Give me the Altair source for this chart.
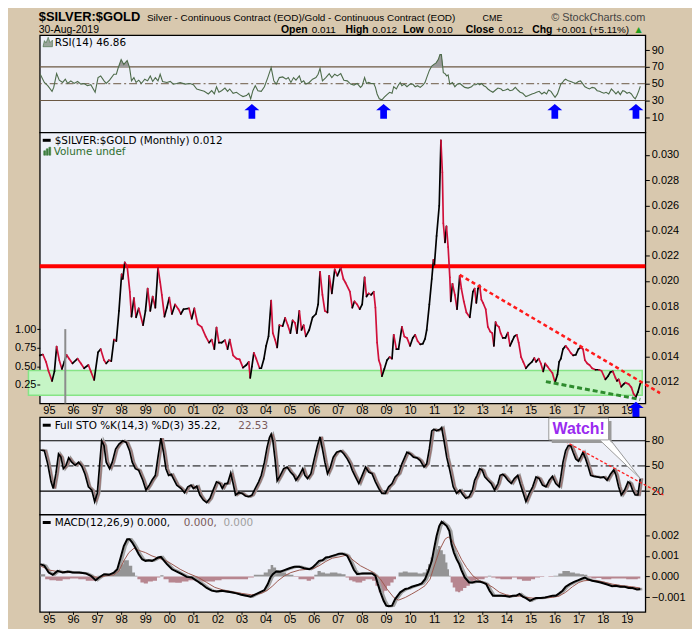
import altair as alt
import pandas as pd
import numpy as np

# ------------------------------------------------------------------ data
price_years = [1994.60, 1994.73, 1994.86, 1994.96, 1995.11, 1995.21, 1995.30, 1995.41, 1995.52, 1995.62,
               1995.71, 1995.82, 1995.96, 1996.17, 1996.31, 1996.44, 1996.62, 1996.72, 1996.86, 1997.02,
               1997.13, 1997.27, 1997.36, 1997.47, 1997.57, 1997.68, 1997.78, 1997.89, 1998.00, 1998.05,
               1998.13, 1998.23, 1998.34, 1998.41, 1998.51, 1998.60, 1998.71, 1998.89, 1998.99, 1999.08,
               1999.19, 1999.29, 1999.40, 1999.51, 1999.60, 1999.67, 1999.78, 1999.88, 1999.98, 2000.09,
               2000.22, 2000.36, 2000.46, 2000.57, 2000.80, 2000.91, 2001.02, 2001.16, 2001.32, 2001.49,
               2001.63, 2001.74, 2001.85, 2001.94, 2002.04, 2002.15, 2002.29, 2002.40, 2002.49, 2002.63,
               2002.77, 2002.90, 2003.04, 2003.18, 2003.28, 2003.34, 2003.41, 2003.49, 2003.59, 2003.73,
               2003.80, 2003.91, 2004.00, 2004.10, 2004.21, 2004.28, 2004.37, 2004.46, 2004.55, 2004.69,
               2004.79, 2004.90, 2005.01, 2005.10, 2005.20, 2005.28, 2005.38, 2005.47, 2005.56, 2005.65,
               2005.79, 2005.93, 2006.07, 2006.16, 2006.24, 2006.34, 2006.44, 2006.55, 2006.62, 2006.73,
               2006.85, 2006.96, 2007.10, 2007.21, 2007.30, 2007.48, 2007.58, 2007.67, 2007.78, 2007.89,
               2007.99, 2008.09, 2008.17, 2008.26, 2008.36, 2008.47, 2008.54, 2008.61, 2008.68, 2008.75,
               2008.81, 2008.91, 2009.02, 2009.13, 2009.23, 2009.30, 2009.41, 2009.50, 2009.64, 2009.74,
               2009.85, 2009.98, 2010.09, 2010.19, 2010.29, 2010.40, 2010.51, 2010.60, 2010.67, 2010.78,
               2010.88, 2010.95, 2010.99, 2011.08, 2011.19, 2011.26, 2011.32, 2011.36, 2011.43, 2011.49,
               2011.56, 2011.63, 2011.67, 2011.74, 2011.84, 2011.93, 2012.04, 2012.11, 2012.21, 2012.32,
               2012.46, 2012.59, 2012.66, 2012.73, 2012.80, 2012.87, 2012.94, 2013.01, 2013.12, 2013.21,
               2013.31, 2013.39, 2013.46, 2013.53, 2013.58, 2013.67, 2013.74, 2013.83, 2013.94, 2014.04,
               2014.13, 2014.22, 2014.31, 2014.41, 2014.49, 2014.59, 2014.68, 2014.79, 2014.90, 2015.04,
               2015.14, 2015.21, 2015.32, 2015.41, 2015.51, 2015.59, 2015.69, 2015.78, 2015.89, 2016.00,
               2016.10, 2016.17, 2016.24, 2016.33, 2016.44, 2016.55, 2016.65, 2016.75, 2016.86, 2016.97,
               2017.06, 2017.16, 2017.24, 2017.34, 2017.43, 2017.54, 2017.68, 2017.82, 2017.93, 2018.09,
               2018.20, 2018.30, 2018.40, 2018.51, 2018.57, 2018.64, 2018.75, 2018.85, 2018.92, 2019.06,
               2019.17, 2019.26, 2019.36, 2019.44, 2019.54]
price_values = [0.01408, 0.01415, 0.01357, 0.01286, 0.01205, 0.01281, 0.01478, 0.01370, 0.01301, 0.01357,
                0.01413, 0.01382, 0.01344, 0.01382, 0.01344, 0.01306, 0.01332, 0.01281, 0.01213, 0.01433,
                0.01458, 0.01370, 0.01344, 0.01370, 0.01362, 0.01534, 0.01522, 0.01762, 0.02053, 0.02015,
                0.02147, 0.02116, 0.01914, 0.01716, 0.01863, 0.01711, 0.01782, 0.01648, 0.01762, 0.01939,
                0.01762, 0.01876, 0.01787, 0.02104, 0.01990, 0.01889, 0.01716, 0.01787, 0.01868, 0.01737,
                0.01813, 0.01775, 0.01737, 0.01775, 0.01782, 0.01699, 0.01782, 0.01656, 0.01635, 0.01559,
                0.01509, 0.01534, 0.01458, 0.01630, 0.01509, 0.01509, 0.01529, 0.01458, 0.01534, 0.01408,
                0.01382, 0.01377, 0.01311, 0.01332, 0.01357, 0.01230, 0.01319, 0.01428, 0.01382, 0.01306,
                0.01306, 0.01382, 0.01484, 0.01559, 0.01843, 0.01585, 0.01534, 0.01471, 0.01648, 0.01641,
                0.01706, 0.01648, 0.01585, 0.01686, 0.01666, 0.01585, 0.01762, 0.01610, 0.01648, 0.01559,
                0.01610, 0.01711, 0.01737, 0.01813, 0.02071, 0.01889, 0.01762, 0.01749, 0.02041, 0.01901,
                0.02091, 0.02041, 0.02104, 0.02015, 0.01985, 0.01914, 0.01787, 0.01838, 0.01813, 0.01775,
                0.01813, 0.02028, 0.01876, 0.01901, 0.01889, 0.01914, 0.01787, 0.01509, 0.01370, 0.01332,
                0.01243, 0.01301, 0.01370, 0.01395, 0.01382, 0.01572, 0.01458, 0.01458, 0.01635, 0.01559,
                0.01547, 0.01484, 0.01547, 0.01572, 0.01522, 0.01496, 0.01501, 0.01539, 0.01610, 0.01813,
                0.02015, 0.02167, 0.02129, 0.02357, 0.02597, 0.03116, 0.02863, 0.02458, 0.02306, 0.02433,
                0.02268, 0.02028, 0.01838, 0.01977, 0.01889, 0.01775, 0.02041, 0.01939, 0.01838, 0.01749,
                0.01711, 0.01914, 0.01939, 0.01825, 0.01939, 0.01965, 0.01851, 0.01825, 0.01775, 0.01635,
                0.01597, 0.01585, 0.01484, 0.01673, 0.01648, 0.01635, 0.01585, 0.01547, 0.01547, 0.01590,
                0.01484, 0.01522, 0.01559, 0.01572, 0.01509, 0.01395, 0.01357, 0.01306, 0.01332, 0.01357,
                0.01387, 0.01357, 0.01382, 0.01344, 0.01281, 0.01344, 0.01319, 0.01294, 0.01268, 0.01192,
                0.01256, 0.01357, 0.01382, 0.01458, 0.01484, 0.01458, 0.01428, 0.01408, 0.01413, 0.01458,
                0.01471, 0.01458, 0.01370, 0.01344, 0.01332, 0.01306, 0.01294, 0.01294, 0.01286, 0.01218,
                0.01243, 0.01276, 0.01281, 0.01230, 0.01205, 0.01218, 0.01159, 0.01180, 0.01192, 0.01180,
                0.01154, 0.01104, 0.01078, 0.01116, 0.01185]

rsi_years = [1994.62, 1994.79, 1994.93, 1995.11, 1995.18, 1995.30, 1995.41, 1995.55, 1995.66, 1995.76,
             1995.89, 1996.03, 1996.17, 1996.31, 1996.44, 1996.58, 1996.72, 1996.90, 1997.02, 1997.13,
             1997.27, 1997.36, 1997.50, 1997.68, 1997.78, 1997.86, 1997.98, 1998.09, 1998.23, 1998.33,
             1998.41, 1998.51, 1998.60, 1998.71, 1998.82, 1998.96, 1999.08, 1999.19, 1999.29, 1999.40,
             1999.51, 1999.60, 1999.70, 1999.88, 2000.02, 2000.15, 2000.29, 2000.43, 2000.64, 2000.84,
             2000.98, 2001.12, 2001.25, 2001.43, 2001.60, 2001.74, 2001.85, 2001.94, 2002.04, 2002.15,
             2002.29, 2002.40, 2002.49, 2002.63, 2002.77, 2002.90, 2003.04, 2003.18, 2003.28, 2003.36,
             2003.45, 2003.55, 2003.66, 2003.80, 2003.93, 2004.07, 2004.21, 2004.32, 2004.42, 2004.55,
             2004.69, 2004.83, 2004.92, 2005.03, 2005.14, 2005.24, 2005.38, 2005.47, 2005.56, 2005.65,
             2005.79, 2005.93, 2006.07, 2006.16, 2006.24, 2006.34, 2006.48, 2006.62, 2006.73, 2006.85,
             2006.96, 2007.10, 2007.23, 2007.37, 2007.51, 2007.65, 2007.78, 2007.92, 2007.99, 2008.09,
             2008.17, 2008.26, 2008.36, 2008.47, 2008.54, 2008.61, 2008.70, 2008.81, 2008.91, 2009.02,
             2009.13, 2009.23, 2009.30, 2009.41, 2009.50, 2009.57, 2009.64, 2009.74, 2009.85, 2009.98,
             2010.09, 2010.19, 2010.29, 2010.40, 2010.51, 2010.60, 2010.67, 2010.78, 2010.88, 2010.97,
             2011.06, 2011.15, 2011.22, 2011.28, 2011.36, 2011.43, 2011.50, 2011.56, 2011.63, 2011.74,
             2011.84, 2011.94, 2012.05, 2012.16, 2012.25, 2012.39, 2012.53, 2012.62, 2012.71, 2012.80,
             2012.87, 2012.94, 2013.04, 2013.12, 2013.21, 2013.31, 2013.42, 2013.53, 2013.63, 2013.76,
             2013.83, 2013.94, 2014.04, 2014.13, 2014.24, 2014.35, 2014.45, 2014.55, 2014.66, 2014.79,
             2014.90, 2015.04, 2015.14, 2015.23, 2015.34, 2015.45, 2015.55, 2015.65, 2015.73, 2015.83,
             2015.92, 2016.00, 2016.10, 2016.17, 2016.24, 2016.31, 2016.38, 2016.44, 2016.55, 2016.65,
             2016.75, 2016.86, 2016.97, 2017.06, 2017.16, 2017.24, 2017.34, 2017.43, 2017.54, 2017.65,
             2017.75, 2017.85, 2017.93, 2018.03, 2018.12, 2018.23, 2018.34, 2018.44, 2018.53, 2018.62,
             2018.71, 2018.81, 2018.89, 2018.99, 2019.08, 2019.17, 2019.26, 2019.33, 2019.40, 2019.47,
             2019.54]
rsi_values = [61.3, 51.5, 47.6, 40.9, 45.6, 62.0, 54.2, 51.5, 55.4, 50.3,
              53.4, 50.3, 52.7, 49.5, 50.3, 47.6, 48.8, 39.8, 57.3, 59.3,
              53.4, 50.3, 54.2, 61.3, 61.3, 69.1, 78.8, 73.0, 77.7, 69.1,
              53.4, 57.3, 51.5, 54.2, 50.3, 55.4, 53.4, 59.3, 52.7, 57.3,
              53.4, 61.3, 52.7, 51.5, 52.7, 49.5, 50.3, 51.5, 49.5, 50.3,
              48.8, 43.7, 42.5, 40.9, 37.8, 41.7, 37.8, 46.4, 39.8, 41.7,
              44.8, 40.9, 43.7, 38.6, 39.8, 37.0, 34.7, 35.9, 38.6, 32.0,
              41.7, 47.6, 41.7, 40.9, 46.4, 57.3, 69.1, 53.4, 49.5, 57.3,
              58.1, 55.4, 57.3, 51.5, 57.3, 54.2, 59.3, 51.5, 53.4, 49.5,
              51.5, 55.4, 57.3, 61.3, 68.3, 53.4, 57.3, 62.0, 57.3, 61.3,
              59.3, 62.0, 54.2, 53.4, 49.5, 48.4, 50.3, 45.6, 47.6, 57.3,
              50.3, 51.5, 50.3, 50.3, 45.6, 37.8, 32.0, 30.8, 33.9, 37.0,
              39.8, 38.6, 46.4, 43.7, 48.8, 51.5, 47.6, 49.5, 46.4, 49.5,
              49.5, 46.4, 47.6, 45.6, 48.4, 51.5, 57.3, 65.9, 71.0, 73.0,
              74.9, 78.8, 84.7, 84.7, 63.2, 62.0, 59.3, 60.5, 49.5, 51.5,
              46.4, 49.5, 50.3, 47.6, 45.6, 44.8, 46.4, 48.8, 48.8, 50.3,
              48.8, 50.3, 47.6, 46.4, 43.7, 41.7, 39.8, 42.5, 44.8, 43.7,
              41.7, 42.5, 43.7, 41.7, 42.5, 45.6, 42.5, 39.8, 38.6, 34.7,
              35.9, 37.8, 38.6, 39.8, 40.9, 37.8, 39.8, 37.8, 42.5, 40.9,
              37.0, 33.9, 37.8, 43.7, 49.5, 51.5, 54.2, 55.4, 53.4, 52.7,
              51.5, 50.3, 52.7, 53.4, 49.5, 46.4, 44.8, 43.7, 45.6, 44.8,
              41.7, 40.9, 39.8, 38.6, 39.8, 37.8, 43.7, 40.9, 37.8, 40.9,
              37.0, 41.7, 40.9, 38.6, 39.8, 37.8, 33.9, 32.0, 35.9, 40.9,
              46.9]

sto_years = [1994.62, 1994.79, 1994.93, 1995.07, 1995.16, 1995.27, 1995.38, 1995.48, 1995.58, 1995.69,
             1995.80, 1995.93, 1996.07, 1996.21, 1996.35, 1996.48, 1996.62, 1996.76, 1996.88, 1996.99,
             1997.09, 1997.17, 1997.27, 1997.36, 1997.50, 1997.61, 1997.75, 1997.89, 1998.05, 1998.19,
             1998.33, 1998.44, 1998.57, 1998.71, 1998.88, 1999.01, 1999.15, 1999.26, 1999.40, 1999.51,
             1999.63, 1999.74, 1999.84, 1999.95, 2000.06, 2000.15, 2000.29, 2000.47, 2000.61, 2000.75,
             2000.88, 2000.98, 2001.12, 2001.25, 2001.39, 2001.53, 2001.67, 2001.80, 2001.94, 2002.08,
             2002.18, 2002.29, 2002.40, 2002.53, 2002.63, 2002.73, 2002.86, 2003.00, 2003.14, 2003.28,
             2003.41, 2003.55, 2003.69, 2003.80, 2003.93, 2004.04, 2004.14, 2004.21, 2004.28, 2004.37,
             2004.46, 2004.59, 2004.73, 2004.87, 2005.01, 2005.14, 2005.24, 2005.38, 2005.52, 2005.61,
             2005.72, 2005.86, 2006.00, 2006.13, 2006.24, 2006.34, 2006.44, 2006.55, 2006.66, 2006.79,
             2006.93, 2007.10, 2007.23, 2007.37, 2007.48, 2007.58, 2007.71, 2007.85, 2007.99, 2008.13,
             2008.26, 2008.40, 2008.54, 2008.68, 2008.81, 2008.95, 2009.09, 2009.23, 2009.36, 2009.50,
             2009.64, 2009.85, 2009.98, 2010.12, 2010.26, 2010.40, 2010.56, 2010.67, 2010.78, 2010.88,
             2010.97, 2011.08, 2011.22, 2011.29, 2011.39, 2011.50, 2011.63, 2011.77, 2011.91, 2012.05,
             2012.15, 2012.29, 2012.43, 2012.57, 2012.66, 2012.76, 2012.87, 2012.98, 2013.08, 2013.21,
             2013.35, 2013.49, 2013.63, 2013.72, 2013.83, 2013.94, 2014.04, 2014.18, 2014.31, 2014.45,
             2014.55, 2014.66, 2014.79, 2014.93, 2015.07, 2015.21, 2015.34, 2015.48, 2015.62, 2015.76,
             2015.89, 2016.03, 2016.17, 2016.24, 2016.33, 2016.44, 2016.55, 2016.65, 2016.75, 2016.86,
             2016.97, 2017.06, 2017.16, 2017.27, 2017.38, 2017.48, 2017.61, 2017.75, 2017.89, 2018.02,
             2018.16, 2018.30, 2018.44, 2018.53, 2018.64, 2018.75, 2018.89, 2019.03, 2019.12, 2019.22,
             2019.33, 2019.44, 2019.54]
sto_k = [69.0, 68.2, 52.5, 31.0, 23.1, 40.8, 64.3, 60.4, 46.7, 50.6,
         59.6, 54.5, 50.6, 54.5, 49.4, 40.0, 25.1, 21.2, 7.5, 17.3,
         52.5, 80.0, 74.1, 54.5, 46.7, 54.5, 70.2, 76.1, 80.0, 78.0,
         68.2, 54.5, 46.7, 44.7, 32.9, 21.2, 27.1, 32.9, 38.8, 60.4,
         83.1, 66.3, 46.7, 38.8, 40.0, 34.9, 27.1, 23.1, 18.0, 25.1,
         27.1, 23.1, 25.9, 15.3, 9.4, 6.3, 11.4, 21.2, 31.0, 29.0,
         23.1, 29.0, 29.0, 41.6, 29.0, 15.3, 18.0, 17.3, 14.1, 13.3,
         15.3, 23.1, 31.0, 38.8, 54.5, 72.2, 83.9, 87.8, 80.0, 58.4,
         32.2, 38.8, 46.7, 48.6, 42.7, 38.8, 32.9, 38.8, 46.7, 38.8,
         34.9, 40.8, 58.4, 74.1, 84.7, 70.2, 54.5, 40.8, 47.8, 60.4,
         66.3, 68.2, 64.3, 58.4, 52.5, 44.7, 36.9, 29.0, 38.8, 48.6,
         42.7, 40.8, 31.0, 23.1, 17.3, 17.3, 25.1, 29.0, 36.9, 40.8,
         52.5, 66.3, 64.3, 60.4, 59.6, 56.5, 48.6, 52.5, 70.2, 91.8,
         93.7, 91.8, 93.7, 95.7, 80.0, 60.4, 44.7, 25.1, 17.3, 21.2,
         16.5, 11.4, 13.3, 21.2, 32.9, 38.8, 46.7, 44.7, 36.9, 32.9,
         29.0, 21.2, 29.0, 38.8, 40.0, 36.9, 32.9, 29.0, 34.9, 38.8,
         29.0, 19.2, 7.5, 17.3, 25.1, 36.9, 34.9, 27.1, 25.1, 32.9,
         37.6, 29.0, 25.1, 36.9, 54.5, 68.2, 74.1, 74.1, 66.3, 58.4,
         55.7, 60.4, 66.3, 58.4, 48.6, 38.8, 37.6, 36.9, 36.1, 36.9,
         32.9, 40.0, 45.5, 38.8, 25.1, 15.3, 21.2, 31.0, 29.0, 21.2,
         15.3, 15.3, 35.2]

macd_years = [1994.62, 1994.79, 1994.97, 1995.14, 1995.34, 1995.55, 1995.76, 1995.96, 1996.24, 1996.51,
              1996.72, 1996.92, 1997.06, 1997.27, 1997.47, 1997.68, 1997.82, 1997.96, 1998.09, 1998.23,
              1998.33, 1998.44, 1998.57, 1998.71, 1998.85, 1998.99, 1999.12, 1999.26, 1999.40, 1999.51,
              1999.63, 1999.74, 1999.88, 2000.09, 2000.29, 2000.50, 2000.70, 2000.91, 2001.12, 2001.32,
              2001.53, 2001.74, 2001.94, 2002.15, 2002.35, 2002.56, 2002.77, 2002.97, 2003.18, 2003.36,
              2003.52, 2003.73, 2003.93, 2004.07, 2004.18, 2004.28, 2004.42, 2004.59, 2004.76, 2004.97,
              2005.17, 2005.38, 2005.58, 2005.79, 2005.93, 2006.07, 2006.20, 2006.34, 2006.48, 2006.62,
              2006.75, 2006.89, 2007.03, 2007.17, 2007.30, 2007.37, 2007.51, 2007.65, 2007.78, 2007.99,
              2008.20, 2008.40, 2008.54, 2008.64, 2008.75, 2008.88, 2008.99, 2009.09, 2009.23, 2009.36,
              2009.57, 2009.78, 2009.91, 2010.05, 2010.19, 2010.33, 2010.46, 2010.60, 2010.74, 2010.88,
              2010.97, 2011.08, 2011.19, 2011.29, 2011.39, 2011.50, 2011.61, 2011.70, 2011.80, 2011.91,
              2012.02, 2012.11, 2012.25, 2012.43, 2012.57, 2012.73, 2012.90, 2013.03, 2013.14, 2013.28,
              2013.42, 2013.58, 2013.76, 2013.94, 2014.11, 2014.24, 2014.38, 2014.52, 2014.66, 2014.79,
              2014.96, 2015.07, 2015.21, 2015.41, 2015.59, 2015.73, 2015.89, 2016.03, 2016.17, 2016.31,
              2016.44, 2016.61, 2016.79, 2016.97, 2017.13, 2017.24, 2017.34, 2017.54, 2017.71, 2017.89,
              2018.03, 2018.20, 2018.37, 2018.53, 2018.71, 2018.89, 2019.06, 2019.22, 2019.40, 2019.54]
macd_values = [0.00060, 0.00052, 0.00019, 0.00008, 0.00027, 0.00019, 0.00024, 0.00019, 0.00019, 0.00015,
               0.00003, -0.00018, -0.00005, 0.00011, 0.00008, 0.00019, 0.00035, 0.00092, 0.00148, 0.00181,
               0.00181, 0.00165, 0.00140, 0.00108, 0.00084, 0.00076, 0.00079, 0.00076, 0.00084, 0.00092,
               0.00095, 0.00079, 0.00060, 0.00035, 0.00024, 0.00011, -0.00002, -0.00005, -0.00021, -0.00037,
               -0.00056, -0.00069, -0.00073, -0.00069, -0.00073, -0.00077, -0.00082, -0.00089, -0.00094, -0.00098,
               -0.00089, -0.00077, -0.00066, -0.00037, -0.00005, 0.00011, 0.00024, 0.00023, 0.00031, 0.00040,
               0.00047, 0.00047, 0.00040, 0.00035, 0.00044, 0.00060, 0.00076, 0.00079, 0.00092, 0.00095,
               0.00100, 0.00105, 0.00111, 0.00111, 0.00105, 0.00100, 0.00068, 0.00031, 0.00011, 0.00015,
               0.00015, 0.00015, 0.00003, -0.00037, -0.00077, -0.00118, -0.00142, -0.00145, -0.00142, -0.00110,
               -0.00077, -0.00061, -0.00058, -0.00050, -0.00045, -0.00040, -0.00034, -0.00013, 0.00027, 0.00076,
               0.00132, 0.00197, 0.00245, 0.00266, 0.00256, 0.00245, 0.00221, 0.00156, 0.00116, 0.00084,
               0.00060, 0.00031, -0.00005, -0.00029, -0.00029, -0.00024, -0.00026, -0.00031, -0.00037, -0.00069,
               -0.00094, -0.00094, -0.00094, -0.00095, -0.00098, -0.00094, -0.00094, -0.00085, -0.00098, -0.00105,
               -0.00118, -0.00111, -0.00105, -0.00105, -0.00102, -0.00098, -0.00094, -0.00094, -0.00082, -0.00069,
               -0.00050, -0.00037, -0.00026, -0.00018, -0.00010, -0.00005, -0.00013, -0.00021, -0.00024, -0.00029,
               -0.00034, -0.00040, -0.00047, -0.00045, -0.00050, -0.00050, -0.00056, -0.00056, -0.00063, -0.00061]

signal_years = [1994.62, 1995.00, 1995.34, 1995.69, 1996.10, 1996.51, 1996.86, 1997.06, 1997.34, 1997.68,
                1997.89, 1998.09, 1998.30, 1998.51, 1998.71, 1998.99, 1999.26, 1999.54, 1999.81, 2000.09,
                2000.43, 2000.77, 2001.19, 2001.53, 2001.87, 2002.22, 2002.56, 2002.97, 2003.39, 2003.80,
                2004.07, 2004.28, 2004.49, 2004.76, 2005.03, 2005.38, 2005.65, 2005.93, 2006.20, 2006.48,
                2006.75, 2007.03, 2007.37, 2007.65, 2007.92, 2008.20, 2008.47, 2008.75, 2009.02, 2009.30,
                2009.50, 2009.78, 2010.05, 2010.33, 2010.60, 2010.81, 2011.01, 2011.22, 2011.43, 2011.56,
                2011.70, 2011.91, 2012.11, 2012.32, 2012.59, 2012.87, 2013.14, 2013.42, 2013.69, 2013.97,
                2014.24, 2014.52, 2014.79, 2015.07, 2015.34, 2015.62, 2015.89, 2016.17, 2016.44, 2016.72,
                2016.99, 2017.20, 2017.47, 2017.75, 2018.03, 2018.37, 2018.78, 2019.19, 2019.54]
signal_values = [0.00052, 0.00031, 0.00024, 0.00021, 0.00019, 0.00015, -0.00002, -0.00005, 0.00003, 0.00008,
                 0.00027, 0.00076, 0.00116, 0.00137, 0.00127, 0.00116, 0.00100, 0.00089, 0.00079, 0.00060,
                 0.00035, 0.00015, -0.00005, -0.00029, -0.00053, -0.00066, -0.00074, -0.00082, -0.00089, -0.00082,
                 -0.00066, -0.00045, -0.00021, 0.00003, 0.00019, 0.00031, 0.00034, 0.00037, 0.00052, 0.00073,
                 0.00089, 0.00095, 0.00105, 0.00076, 0.00052, 0.00035, 0.00019, -0.00013, -0.00061, -0.00102,
                 -0.00115, -0.00102, -0.00085, -0.00066, -0.00045, -0.00013, 0.00060, 0.00132, 0.00181, 0.00192,
                 0.00181, 0.00132, 0.00084, 0.00044, 0.00003, -0.00021, -0.00034, -0.00053, -0.00077, -0.00089,
                 -0.00095, -0.00095, -0.00102, -0.00105, -0.00105, -0.00103, -0.00102, -0.00095, -0.00077, -0.00050,
                 -0.00029, -0.00021, -0.00018, -0.00021, -0.00027, -0.00037, -0.00045, -0.00050, -0.00056]

hist_years = [1994.62, 1994.79, 1994.86, 1995.14, 1995.41, 1995.69, 1996.03, 1996.37, 1996.65, 1996.92,
              1997.06, 1997.34, 1997.68, 1997.89, 1998.02, 1998.13, 1998.23, 1998.37, 1998.51, 1998.60,
              1998.71, 1998.85, 1998.99, 1999.19, 1999.40, 1999.54, 1999.67, 1999.81, 2000.09, 2000.36,
              2000.64, 2000.91, 2001.19, 2001.46, 2001.74, 2002.01, 2002.29, 2002.56, 2002.84, 2003.11,
              2003.39, 2003.59, 2003.80, 2004.00, 2004.14, 2004.24, 2004.35, 2004.48, 2004.62, 2004.76,
              2004.90, 2005.03, 2005.24, 2005.45, 2005.58, 2005.79, 2005.93, 2006.07, 2006.20, 2006.34,
              2006.55, 2006.75, 2006.89, 2007.03, 2007.23, 2007.37, 2007.51, 2007.65, 2007.78, 2007.92,
              2008.06, 2008.20, 2008.33, 2008.47, 2008.61, 2008.75, 2008.86, 2008.95, 2009.09, 2009.23,
              2009.36, 2009.43, 2009.57, 2009.78, 2009.98, 2010.19, 2010.40, 2010.60, 2010.67, 2010.78,
              2010.88, 2010.97, 2011.08, 2011.19, 2011.29, 2011.39, 2011.50, 2011.56, 2011.63, 2011.70,
              2011.80, 2011.91, 2012.02, 2012.11, 2012.25, 2012.39, 2012.53, 2012.66, 2012.80, 2013.01,
              2013.14, 2013.28, 2013.42, 2013.63, 2013.83, 2014.11, 2014.31, 2014.52, 2014.73, 2014.93,
              2015.07, 2015.27, 2015.48, 2015.62, 2015.83, 2016.03, 2016.24, 2016.37, 2016.51, 2016.72,
              2016.93, 2017.13, 2017.27, 2017.41, 2017.61, 2017.82, 2018.03, 2018.23, 2018.44, 2018.64,
              2018.85, 2019.06, 2019.33, 2019.54]
hist_values = [0.00011, 0.00011, -0.00013, -0.00018, -0.00021, -0.00013, -0.00010, -0.00013, -0.00021, -0.00021,
               0.00003, 0.00011, 0.00015, 0.00031, 0.00060, 0.00079, 0.00079, 0.00052, 0.00019, 0.00003,
               -0.00013, -0.00029, -0.00034, -0.00024, -0.00021, -0.00005, 0.00006, -0.00013, -0.00029, -0.00031,
               -0.00024, -0.00018, -0.00021, -0.00024, -0.00024, -0.00018, -0.00013, -0.00013, -0.00013, -0.00013,
               -0.00005, 0.00008, 0.00008, 0.00019, 0.00035, 0.00056, 0.00044, 0.00031, 0.00024, 0.00019,
               0.00011, 0.00008, -0.00002, -0.00013, -0.00013, -0.00021, -0.00013, 0.00008, 0.00027, 0.00019,
               0.00015, 0.00019, 0.00019, 0.00015, 0.00011, -0.00005, -0.00018, -0.00024, -0.00029, -0.00029,
               -0.00021, -0.00013, -0.00013, -0.00021, -0.00045, -0.00077, -0.00082, -0.00069, -0.00045, -0.00029,
               -0.00013, 0.00000, 0.00019, 0.00024, 0.00019, 0.00019, 0.00015, 0.00019, 0.00035, 0.00060,
               0.00092, 0.00108, 0.00132, 0.00148, 0.00127, 0.00108, 0.00068, 0.00035, 0.00003, -0.00029,
               -0.00053, -0.00073, -0.00077, -0.00069, -0.00056, -0.00045, -0.00029, -0.00021, -0.00013, -0.00013,
               -0.00005, 0.00003, -0.00005, -0.00010, -0.00013, -0.00013, -0.00005, -0.00013, -0.00021, -0.00021,
               -0.00013, -0.00005, -0.00002, 0.00000, -0.00002, 0.00003, 0.00015, 0.00027, 0.00027, 0.00019,
               0.00015, 0.00011, 0.00008, -0.00005, -0.00010, -0.00008, -0.00013, -0.00013, -0.00010, -0.00010,
               -0.00010, -0.00013, -0.00013, -0.00010]

year_ticks = list(range(1995, 2020))
year_labels = ["95", "96", "97", "98", "99", "00", "01", "02", "03", "04", "05", "06", "07",
               "08", "09", "10", "11", "12", "13", "14", "15", "16", "17", "18", "19"]

rsi_arrow_years = [2003.41, 2008.88, 2015.99, 2019.36]
rsi_arrow_level = [17, 17, 17, 17]
strip_arrow_year = [2019.36]

resistance_level = [0.02116]
band_years = [1994.13, 2019.62]
band_range = [0.01091, 0.01289]
red_trend_years = [2012.04, 2020.36]
red_trend_values = [0.02048, 0.01109]
green_trend_years = [2015.62, 2019.54]
green_trend_values = [0.01200, 0.01058]
volume_year = [1995.66]
volume_value = [1.0]

sto_trend_years = [2016.24, 2020.50]
sto_trend_values = [82.0, 15.3]
watch_box_years = [2015.74, 2018.22]
watch_box_values = [81.0, 107.0]
watch_text_pos = [2016.98, 93.5]
pointer_years = [2017.85, 2019.54, 2018.22, 2019.54]
pointer_values = [81.0, 35.0, 84.0, 35.0]
pointer_edges = ["a", "a", "b", "b"]
trail_years = [2018.03, 2019.54]
trail_values = [82.0, 35.0]
trail_widths = [7.0, 0.5]

# ------------------------------------------------------------------ style
BEIGE = "#D8C8AE"
PANEL = "#EEF0F8"
W = 610
X_DOMAIN = [1994.6, 2019.75]
XS = alt.Scale(domain=X_DOMAIN, nice=False, zero=False)
ARROW = "M0,-1L1,-0.16L0.45,-0.16L0.45,1L-0.45,1L-0.45,-0.16L-1,-0.16Z"
MOUNTAIN = "M-1,1L-0.7,-0.3L-0.35,0.2L0.1,-1L0.5,0.1L1,-0.4L1,1Z"
BARS = "M-1,1L-1,-0.1L-0.55,-0.1L-0.55,1ZM-0.35,1L-0.35,-0.6L0.1,-0.6L0.1,1ZM0.3,1L0.3,-1L0.75,-1L0.75,1Z"
HEAD = "Liberation Sans"
LEG = "DejaVu Sans"


def X(field):
    return alt.X(f"{field}:Q", scale=XS, axis=None)


def right_axis(values, fmt=None):
    kw = dict(orient="right", values=values, title="", domain=False, grid=False,
              ticks=True, tickSize=4, tickColor="#000000", tickWidth=1,
              labelFont="Liberation Sans", labelFontSize=11, labelColor="#000000",
              labelPadding=2)
    if fmt:
        kw["format"] = fmt
    return alt.Axis(**kw)


def txt(text, x, y, size=10.5, color="#000000", weight="normal", font=LEG, align="left"):
    return alt.Chart(pd.DataFrame({"t": [text]})).mark_text(
        align=align, baseline="alphabetic", fontSize=size, color=color,
        fontWeight=weight, font=font).encode(x=alt.value(x), y=alt.value(y), text="t:N")


def dash_icon(y):
    return alt.Chart(pd.DataFrame({"a": [0]})).mark_rule(color="#000000", strokeWidth=3).encode(
        x=alt.value(3), x2=alt.value(11), y=alt.value(y))


def icon(path, x, y, size, fill, stroke):
    return alt.Chart(pd.DataFrame({"a": [0]})).mark_point(
        shape=path, filled=True, size=size, fill=fill, stroke=stroke, strokeWidth=0.6,
        opacity=1).encode(x=alt.value(x), y=alt.value(y))


# ------------------------------------------------------------------ RSI panel
RSI_S = alt.Scale(domain=[-8, 108], nice=False, zero=False)
rsi_ax = right_axis([10, 30, 50, 70, 90])
rsi_df = pd.DataFrame({"yr": rsi_years, "v": rsi_values})

rsi_levels = alt.Chart(pd.DataFrame({"lv": [30, 70]})).mark_rule(
    color="#6b5843", strokeWidth=1.2).encode(y=alt.Y("lv:Q", scale=RSI_S, axis=rsi_ax))
rsi_mid = alt.Chart(pd.DataFrame({"lv": [50]})).mark_rule(
    color="#6b5843", strokeWidth=1, strokeDash=[8, 3, 2, 3]).encode(
    y=alt.Y("lv:Q", scale=RSI_S, axis=rsi_ax))
rsi_fill = alt.Chart(rsi_df).transform_calculate(hi="max(datum.v, 70)").mark_area(
    color="#9a9a9a").encode(x=X("yr"), y=alt.Y("hi:Q", scale=RSI_S, axis=rsi_ax), y2=alt.datum(70))
rsi_line = alt.Chart(rsi_df).mark_line(color="#4d6b4a", strokeWidth=1.1).encode(
    x=X("yr"), y=alt.Y("v:Q", scale=RSI_S, axis=rsi_ax))
rsi_arrows = alt.Chart(pd.DataFrame({"yr": rsi_arrow_years, "v": rsi_arrow_level})).mark_point(
    shape=ARROW, filled=True, size=225, color="#0000FF", opacity=1, strokeWidth=0).encode(
    x=X("yr"), y=alt.Y("v:Q", scale=RSI_S, axis=rsi_ax))

R1 = -14
R2 = -2
header = [
    txt("$SILVER:$GOLD", -1, R1, size=13, weight="bold", font=HEAD),
    txt("Silver - Continuous Contract (EOD)/Gold - Continuous Contract (EOD)", 108, R1, size=10, font=HEAD),
    txt("CME", 446, R1, size=9, font=HEAD),
    txt("\u00a9 StockCharts.com", 610, R1, size=11, font=HEAD, color="#444444", align="right"),
    txt("30-Aug-2019", -1, R2, size=10.5, font=HEAD),
    txt("Open", 243, R2, size=10.5, weight="bold", font=HEAD),
    txt("0.011", 274, R2, size=10, font=HEAD),
    txt("High", 308, R2, size=10.5, weight="bold", font=HEAD),
    txt("0.012", 335, R2, size=10, font=HEAD),
    txt("Low", 366, R2, size=10.5, weight="bold", font=HEAD),
    txt("0.010", 391, R2, size=10, font=HEAD),
    txt("Close", 429, R2, size=10.5, weight="bold", font=HEAD),
    txt("0.012", 462, R2, size=10, font=HEAD),
    txt("Chg", 496, R2, size=10.5, weight="bold", font=HEAD),
    txt("+0.001 (+5.11%)", 520, R2, size=10, font=HEAD),
    txt("\u25b2", 600, R2 - 1, size=8, font=LEG, color="#1e9e1e"),
]

rsi = alt.layer(
    rsi_levels, rsi_mid, rsi_fill, rsi_line, rsi_arrows,
    icon(MOUNTAIN, 8, 7, 90, "#9aa59a", "#3f6b3f"),
    txt("RSI(14) 46.86", 15, 11),
    *header,
).properties(width=W, height=98)

# ------------------------------------------------------------------ main price panel
PS = alt.Scale(domain=[0.01027, 0.0318], nice=False, zero=False)
p_ax = right_axis([0.012, 0.014, 0.016, 0.018, 0.020, 0.022, 0.024, 0.026, 0.028, 0.030], ".3f")

seg = pd.DataFrame({"yr": price_years, "p": price_values})
seg["yr2"] = seg["yr"].shift(-1)
seg["p2"] = seg["p"].shift(-1)
seg = seg.dropna()
seg["dir"] = np.where(seg["p2"] >= seg["p"], "up", "down")

band = alt.Chart(pd.DataFrame({"x1": [band_years[0]], "x2": [band_years[1]],
                               "y1": [band_range[0]], "y2": [band_range[1]]})).mark_rect(
    fill="#C6F5C6", stroke="#86E486", strokeWidth=1.5, clip=False).encode(
    x=X("x1"), x2="x2:Q", y=alt.Y("y1:Q", scale=PS, axis=p_ax), y2="y2:Q")
resist = alt.Chart(pd.DataFrame({"r": resistance_level})).mark_rule(
    color="#FF0000", strokeWidth=4).encode(y=alt.Y("r:Q", scale=PS, axis=p_ax))
segs = alt.Chart(seg).mark_rule(strokeWidth=1.7, strokeCap="round").encode(
    x=X("yr"), x2="yr2:Q", y=alt.Y("p:Q", scale=PS, axis=p_ax), y2="p2:Q",
    color=alt.Color("dir:N", scale=alt.Scale(domain=["up", "down"], range=["#000000", "#D0103A"]),
                    legend=None))
red_trend = alt.Chart(pd.DataFrame({"yr": red_trend_years, "p": red_trend_values})).mark_line(
    color="#FF1A1A", strokeWidth=2.5, strokeDash=[4, 3], clip=False).encode(
    x=X("yr"), y=alt.Y("p:Q", scale=PS, axis=p_ax))
green_trend = alt.Chart(pd.DataFrame({"yr": green_trend_years, "p": green_trend_values})).mark_line(
    color="#2E8B2E", strokeWidth=3, strokeDash=[5, 3], clip=False).encode(
    x=X("yr"), y=alt.Y("p:Q", scale=PS, axis=p_ax))

price_layers = alt.layer(
    band, resist, segs, red_trend, green_trend,
    dash_icon(8),
    txt("$SILVER:$GOLD (Monthly) 0.012", 15, 12),
    icon(BARS, 8, 19, 64, "#3f7f3f", "#3f7f3f"),
    txt("Volume undef", 14, 23, color="#2f6f2f"),
)
vol = alt.Chart(pd.DataFrame({"yr": volume_year, "v1": volume_value, "v0": [0.0]})).mark_rule(
    color="#8c8c8c", strokeWidth=2).encode(
    x=X("yr"),
    y=alt.Y("v1:Q", scale=alt.Scale(domain=[0, 3.65], nice=False, zero=False),
            axis=alt.Axis(orient="left", values=[0.25, 0.5, 0.75, 1.0], format=".2f", title="",
                          domain=False, grid=False, tickSize=3, tickColor="#000000",
                          labelFont="Liberation Sans", labelFontSize=11, labelColor="#000000",
                          labelPadding=1, zindex=2)),
    y2="v0:Q")
main = alt.layer(price_layers, vol).resolve_scale(y="independent").properties(width=W, height=273)

# ------------------------------------------------------------------ year strips
yr_df = pd.DataFrame({"yr": year_ticks, "lab": year_labels})


def strip(with_arrow):
    layers = [
        alt.Chart(yr_df).mark_rule(color="#000000").encode(x=X("yr"), y=alt.value(0), y2=alt.value(3)),
        alt.Chart(yr_df).mark_text(font="Liberation Sans", fontSize=11, baseline="middle",
                                   color="#000000").encode(x=X("yr"), y=alt.value(8), text="lab:N"),
    ]
    if with_arrow:
        layers.append(alt.Chart(pd.DataFrame({"yr": strip_arrow_year})).mark_point(
            shape=ARROW, filled=True, size=240, color="#0000FF", opacity=1, strokeWidth=0).encode(
            x=X("yr"), y=alt.value(6)))
    return alt.layer(*layers).properties(
        width=W, height=14, view=alt.ViewBackground(fill="transparent", stroke="transparent"))


# ------------------------------------------------------------------ STO panel
STO_S = alt.Scale(domain=[-8, 108], nice=False, zero=False)
s_ax = right_axis([20, 50, 80])
sto_df = pd.DataFrame({"yr": sto_years, "k": sto_k})

sto_levels = alt.Chart(pd.DataFrame({"lv": [20, 80]})).mark_rule(
    color="#000000", strokeWidth=1.2).encode(y=alt.Y("lv:Q", scale=STO_S, axis=s_ax))
sto_mid = alt.Chart(pd.DataFrame({"lv": [50]})).mark_rule(
    color="#000000", strokeWidth=1, strokeDash=[8, 3, 2, 3]).encode(y=alt.Y("lv:Q", scale=STO_S, axis=s_ax))
sto_shadow = alt.Chart(sto_df).mark_line(color="#9a9a9a", strokeWidth=2.4, xOffset=2).encode(
    x=X("yr"), y=alt.Y("k:Q", scale=STO_S, axis=s_ax))
sto_d = alt.Chart(sto_df).mark_line(color="#a05a5a", strokeWidth=0.7, xOffset=2).encode(
    x=X("yr"), y=alt.Y("k:Q", scale=STO_S, axis=s_ax))
sto_k_line = alt.Chart(sto_df).mark_line(color="#000000", strokeWidth=1.7).encode(
    x=X("yr"), y=alt.Y("k:Q", scale=STO_S, axis=s_ax))
sto_trend = alt.Chart(pd.DataFrame({"yr": sto_trend_years, "k": sto_trend_values})).mark_line(
    color="#FF2020", strokeWidth=1.3, strokeDash=[3, 2], clip=False).encode(
    x=X("yr"), y=alt.Y("k:Q", scale=STO_S, axis=s_ax))

box_df = pd.DataFrame({"x1": [watch_box_years[0]], "x2": [watch_box_years[1]],
                       "y1": [watch_box_values[0]], "y2": [watch_box_values[1]]})
box_shadow = alt.Chart(box_df).mark_rect(fill="#9a9a9a", xOffset=3, x2Offset=3, yOffset=3, y2Offset=3).encode(
    x=X("x1"), x2="x2:Q", y=alt.Y("y1:Q", scale=STO_S, axis=s_ax), y2="y2:Q")
box = alt.Chart(box_df).mark_rect(fill="#FFFFFF", stroke="#9a9a9a", strokeWidth=1).encode(
    x=X("x1"), x2="x2:Q", y=alt.Y("y1:Q", scale=STO_S, axis=s_ax), y2="y2:Q")
pointer_fill = alt.Chart(pd.DataFrame({"yr": trail_years, "k": trail_values, "w": trail_widths})).mark_trail(
    color="#FFFFFF", clip=False).encode(
    x=X("yr"), y=alt.Y("k:Q", scale=STO_S, axis=s_ax), size=alt.Size("w:Q", scale=None, legend=None))
pointer_edges_l = alt.Chart(pd.DataFrame({"yr": pointer_years, "k": pointer_values, "e": pointer_edges})).mark_line(
    color="#9a9a9a", strokeWidth=1, clip=False).encode(
    x=X("yr"), y=alt.Y("k:Q", scale=STO_S, axis=s_ax), detail="e:N")
watch = alt.Chart(pd.DataFrame({"yr": [watch_text_pos[0]], "k": [watch_text_pos[1]], "t": ["Watch!"]})).mark_text(
    font="Liberation Sans", fontSize=16, fontWeight="bold", color="#9A2CF0", baseline="middle").encode(
    x=X("yr"), y=alt.Y("k:Q", scale=STO_S, axis=s_ax), text="t:N")

sto = alt.layer(
    sto_levels, sto_mid, sto_shadow, sto_d, sto_k_line, sto_trend,
    box_shadow, pointer_fill, pointer_edges_l, box, watch,
    dash_icon(8),
    txt("Full STO %K(14,3) %D(3) 35.22,", 15, 12),
    txt("22.53", 200, 12, color="#7a5a5a"),
).properties(width=W, height=98)

# ------------------------------------------------------------------ MACD panel
MS = alt.Scale(domain=[-0.00172, 0.00301], nice=False, zero=False)
m_ax = right_axis([-0.001, 0.0, 0.001, 0.002], ".3f")
hist_df = pd.DataFrame({"yr": hist_years, "h": hist_values})

hist_pos = alt.Chart(hist_df).transform_calculate(hp="max(datum.h, 0)").mark_area(
    color="#8a8a8a", interpolate="step", opacity=0.9).encode(
    x=X("yr"), y=alt.Y("hp:Q", scale=MS, axis=m_ax), y2=alt.datum(0))
hist_neg = alt.Chart(hist_df).transform_calculate(hn="min(datum.h, 0)").mark_area(
    color="#B07A84", interpolate="step", opacity=0.9).encode(
    x=X("yr"), y=alt.Y("hn:Q", scale=MS, axis=m_ax), y2=alt.datum(0))
macd_df = pd.DataFrame({"yr": macd_years, "m": macd_values})
macd_shadow = alt.Chart(macd_df).mark_line(color="#a0a0a0", strokeWidth=2.4, xOffset=2).encode(
    x=X("yr"), y=alt.Y("m:Q", scale=MS, axis=m_ax))
signal_line = alt.Chart(pd.DataFrame({"yr": signal_years, "s": signal_values})).mark_line(
    color="#9C5A50", strokeWidth=1).encode(x=X("yr"), y=alt.Y("s:Q", scale=MS, axis=m_ax))
macd_line = alt.Chart(macd_df).mark_line(color="#000000", strokeWidth=2).encode(
    x=X("yr"), y=alt.Y("m:Q", scale=MS, axis=m_ax))

macd = alt.layer(
    hist_pos, hist_neg, macd_shadow, signal_line, macd_line,
    dash_icon(8),
    txt("MACD(12,26,9) 0.000,", 15, 12),
    txt("0.000,", 145, 12, color="#7a5a5a"),
    txt("0.000", 185, 12, color="#a0a0a0"),
).properties(width=W, height=98)

# ------------------------------------------------------------------ assemble
chart = alt.vconcat(
    rsi, main, strip(True), sto, macd, strip(False), spacing=0, bounds="flush"
).properties(
    background=BEIGE, padding={"left": 5, "top": 0, "right": 6, "bottom": 0}
).configure_view(fill=PANEL, stroke="#000000", strokeWidth=1.3)

chart.save("out.html", embed_options={"renderer": "svg", "actions": False})
